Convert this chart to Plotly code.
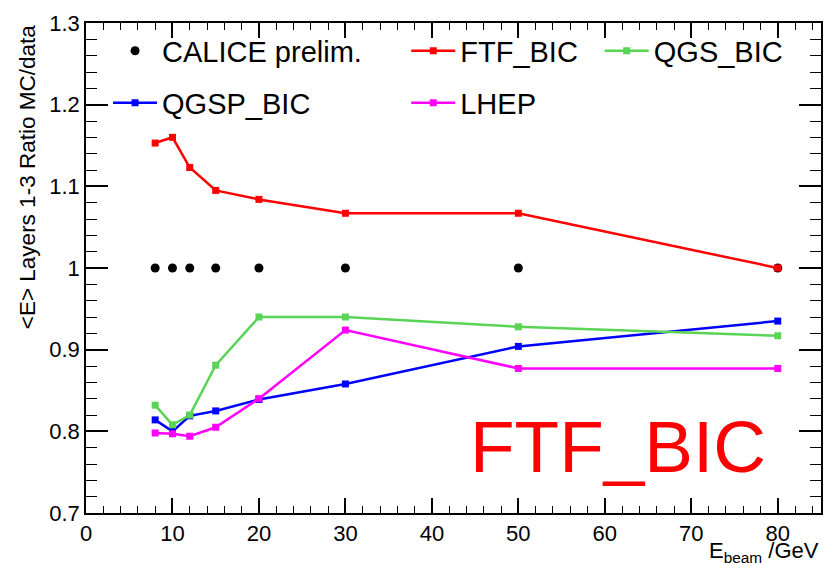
import plotly.graph_objects as go

energies = [8, 10, 12, 15, 20, 30, 50, 80]
data_vals = [1.0, 1.0, 1.0, 1.0, 1.0, 1.0, 1.0, 1.0]
ftf_bic = [1.153, 1.160, 1.123, 1.095, 1.084, 1.067, 1.067, 1.000]
qgs_bic = [0.832, 0.808, 0.820, 0.881, 0.940, 0.940, 0.928, 0.917]
qgsp_bic = [0.814, 0.800, 0.819, 0.825, 0.839, 0.858, 0.904, 0.935]
lhep = [0.798, 0.797, 0.794, 0.805, 0.840, 0.924, 0.877, 0.877]

x_ticks = [0, 10, 20, 30, 40, 50, 60, 70, 80]
y_ticks = [0.7, 0.8, 0.9, 1.0, 1.1, 1.2, 1.3]

FONT = "Liberation Sans, Arial, Helvetica, sans-serif"

fig = go.Figure()

fig.add_trace(go.Scatter(x=energies, y=data_vals, mode="markers", name="CALICE prelim.",
                         marker=dict(color="black", size=9, symbol="circle"), legend="legend"))

series = {
    "FTF_BIC": (ftf_bic, "#FF0000", "legend2"),
    "QGS_BIC": (qgs_bic, "#59D454", "legend3"),
    "QGSP_BIC": (qgsp_bic, "#0000FF", "legend4"),
    "LHEP": (lhep, "#FF00FF", "legend5"),
}
for name in ["QGSP_BIC", "LHEP", "QGS_BIC", "FTF_BIC"]:
    vals, col, lg = series[name]
    fig.add_trace(go.Scatter(x=energies, y=vals, mode="lines+markers", name=name,
                             line=dict(color=col, width=2.5),
                             marker=dict(color=col, size=7, symbol="square"),
                             legend=lg))

leg_font = dict(family=FONT, size=29, color="black")
common = dict(bgcolor="rgba(0,0,0,0)", borderwidth=0, font=leg_font, itemwidth=44,
              xanchor="left", yanchor="middle", orientation="v")
row1, row2 = 0.943, 0.837
col1, col2, col3 = 0.030, 0.4357, 0.699

fig.update_layout(
    width=834, height=563,
    margin=dict(l=86, r=11, t=18, b=50),
    plot_bgcolor="white", paper_bgcolor="white",
    font=dict(family=FONT, color="black"),
    showlegend=True,
    legend=dict(x=col1, y=row1, **common),
    legend2=dict(x=col2, y=row1, **common),
    legend3=dict(x=col3, y=row1, **common),
    legend4=dict(x=col1, y=row2, **common),
    legend5=dict(x=col2, y=row2, **common),
    xaxis=dict(range=[0, 85], tickvals=x_ticks, ticks="inside", ticklen=15, tickwidth=1.5,
               tickcolor="black", showline=True, linecolor="black", linewidth=1.5,
               mirror="allticks", showgrid=False, zeroline=False,
               tickfont=dict(family=FONT, size=22, color="black"),
               minor=dict(ticks="inside", ticklen=7, dtick=2, tick0=0, tickwidth=1.2,
                          tickcolor="black", showgrid=False)),
    yaxis=dict(range=[0.7, 1.3], tickvals=y_ticks, ticks="inside", ticklen=22, tickwidth=1.5,
               tickcolor="black", showline=True, linecolor="black", linewidth=1.5,
               mirror="allticks", showgrid=False, zeroline=False,
               tickfont=dict(family=FONT, size=22, color="black"),
               minor=dict(ticks="inside", ticklen=11, dtick=0.02, tick0=0.7, tickwidth=1.2,
                          tickcolor="black", showgrid=False)),
)

fig.add_annotation(text="E<sub>beam</sub> /GeV", xref="paper", yref="paper", x=1.0, y=-0.113,
                   xanchor="right", yanchor="bottom", showarrow=False,
                   font=dict(family=FONT, size=22, color="black"))
fig.add_annotation(text="&lt;E&gt; Layers 1-3 Ratio MC/data", xref="paper", yref="paper",
                   x=-0.08, y=1.0, xanchor="center", yanchor="top", textangle=-90,
                   showarrow=False, font=dict(family=FONT, size=22.5, color="black"))
fig.add_annotation(text="FTF_BIC", xref="paper", yref="paper", x=0.52, y=0.05,
                   xanchor="left", yanchor="bottom", showarrow=False,
                   font=dict(family=FONT, size=73, color="#FF0000"))

fig.write_html("out.html")
